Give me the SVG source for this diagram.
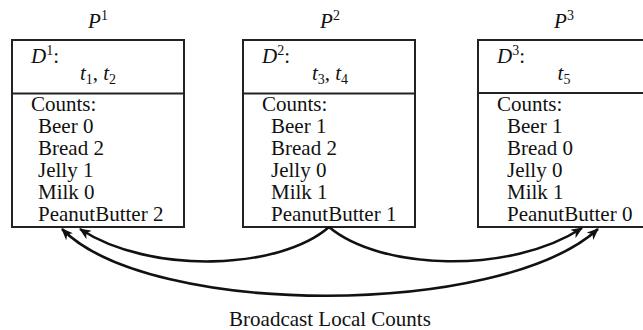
<svg xmlns="http://www.w3.org/2000/svg" width="643" height="330" viewBox="0 0 643 330">
<style>
text{font-family:"Liberation Serif","Times New Roman",serif;font-size:21px;fill:#111}
.it{font-style:italic}
.box{fill:#fff;stroke:#222;stroke-width:2}
.conn{fill:none;stroke:#111;stroke-width:2.6}
</style>
<defs>
<marker id="ah" viewBox="0 0 12 10" refX="11" refY="5" markerWidth="12" markerHeight="10" markerUnits="userSpaceOnUse" orient="auto-start-reverse">
<path d="M0,0 L12,5 L0,10 L3.5,5 z" fill="#111"/>
</marker>
</defs>
<rect width="643" height="330" fill="#fff"/>

<g id="p1">
<text x="98" y="28" text-anchor="middle"><tspan class="it">P</tspan><tspan font-size="14" dy="-8">1</tspan></text>
<rect class="box" x="12" y="40" width="172" height="187"/>
<line x1="12" y1="93.5" x2="184" y2="93.5" stroke="#222" stroke-width="2"/>
<text x="31" y="63"><tspan class="it">D</tspan><tspan font-size="14" dy="-8">1</tspan><tspan dy="8">:</tspan></text>
<text x="98" y="80" text-anchor="middle"><tspan class="it">t</tspan><tspan font-size="14" dy="4">1</tspan><tspan dy="-4">, </tspan><tspan class="it">t</tspan><tspan font-size="14" dy="4">2</tspan></text>
<text x="31" y="111">Counts:</text>
<text x="38" y="133">Beer 0</text>
<text x="38" y="155">Bread 2</text>
<text x="38" y="177">Jelly 1</text>
<text x="38" y="199">Milk 0</text>
<text x="38" y="221">PeanutButter 2</text>
</g>

<g id="p2">
<text x="330" y="28" text-anchor="middle"><tspan class="it">P</tspan><tspan font-size="14" dy="-8">2</tspan></text>
<rect class="box" x="243" y="40" width="172" height="187"/>
<line x1="243" y1="93.5" x2="415" y2="93.5" stroke="#222" stroke-width="2"/>
<text x="262" y="63"><tspan class="it">D</tspan><tspan font-size="14" dy="-8">2</tspan><tspan dy="8">:</tspan></text>
<text x="330" y="80" text-anchor="middle"><tspan class="it">t</tspan><tspan font-size="14" dy="4">3</tspan><tspan dy="-4">, </tspan><tspan class="it">t</tspan><tspan font-size="14" dy="4">4</tspan></text>
<text x="262" y="111">Counts:</text>
<text x="271" y="133">Beer 1</text>
<text x="271" y="155">Bread 2</text>
<text x="271" y="177">Jelly 0</text>
<text x="271" y="199">Milk 1</text>
<text x="271" y="221">PeanutButter 1</text>
</g>

<g id="p3">
<text x="564" y="28" text-anchor="middle"><tspan class="it">P</tspan><tspan font-size="14" dy="-8">3</tspan></text>
<rect class="box" x="478" y="40" width="172" height="187"/>
<line x1="478" y1="93" x2="650" y2="93" stroke="#222" stroke-width="2"/>
<text x="497" y="63"><tspan class="it">D</tspan><tspan font-size="14" dy="-8">3</tspan><tspan dy="8">:</tspan></text>
<text x="564" y="80" text-anchor="middle"><tspan class="it">t</tspan><tspan font-size="14" dy="4">5</tspan></text>
<text x="497" y="111">Counts:</text>
<text x="507" y="133">Beer 1</text>
<text x="507" y="155">Bread 0</text>
<text x="507" y="177">Jelly 0</text>
<text x="507" y="199">Milk 1</text>
<text x="507" y="221">PeanutButter 0</text>
</g>

<g id="connectors">
<path class="conn" d="M329,227 C280,270 150,275 80,229" marker-end="url(#ah)"/>
<path class="conn" d="M329,227 C380,270 510,275 582,228" marker-end="url(#ah)"/>
<path class="conn" d="M62,229 C150,318 500,318 598,229" marker-start="url(#ah)" marker-end="url(#ah)"/>
</g>

<text x="330" y="326" text-anchor="middle">Broadcast Local Counts</text>
</svg>
